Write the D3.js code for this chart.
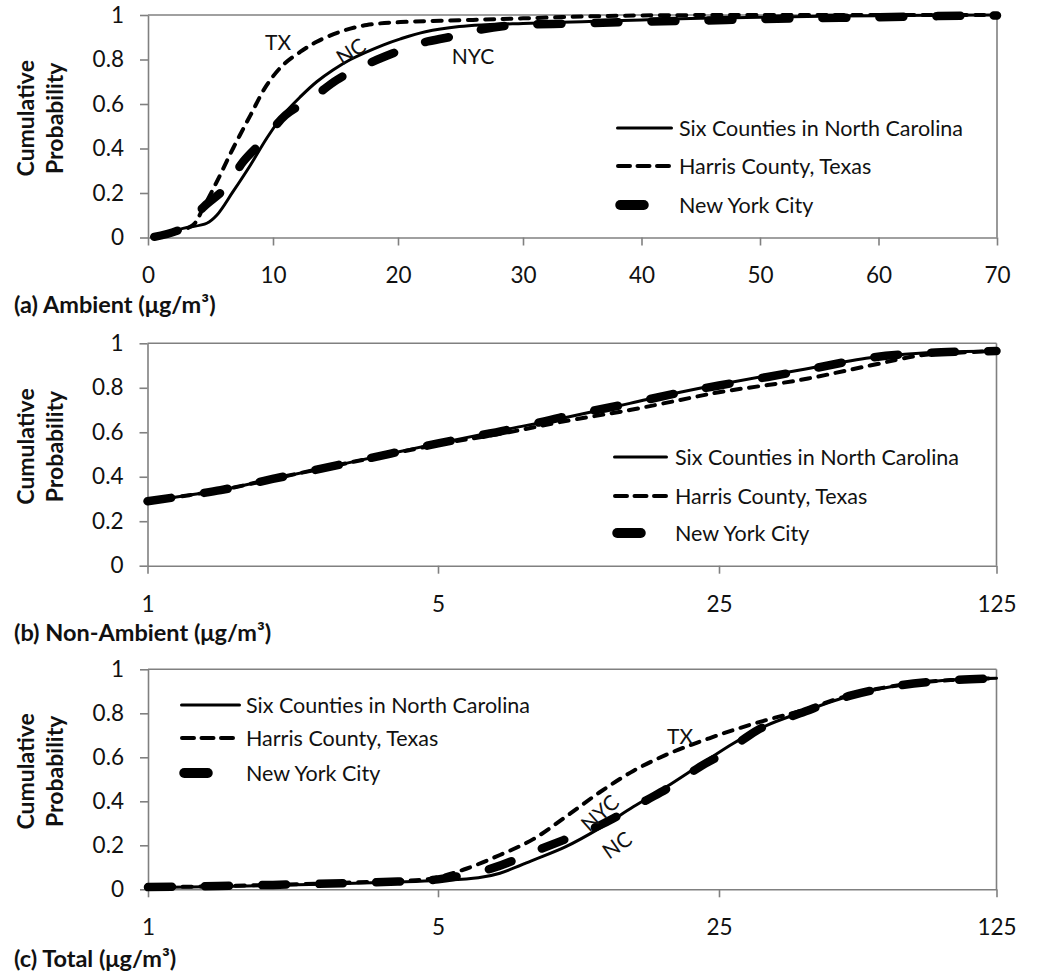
<!DOCTYPE html>
<html>
<head>
<meta charset="utf-8">
<script src="https://cdn.jsdelivr.net/npm/d3@7"></script>
<style>
  html, body { margin: 0; padding: 0; background: #fff; }
  svg text { font-family: Lato, "Open Sans", sans-serif; fill: #111; }
</style>
</head>
<body>
<svg id="chart" width="1050" height="978"></svg>
<script>
// ---------------- DATA ----------------
const seriesNames = ["Six Counties in North Carolina", "Harris County, Texas", "New York City"];
const probTicks = [0, 0.2, 0.4, 0.6, 0.8, 1];
const ambientTicks = [0, 10, 20, 30, 40, 50, 60, 70];
const logTicks = [1, 5, 25, 125];
const panelTitles = ["(a) Ambient (μg/m³)", "(b) Non-Ambient (μg/m³)", "(c) Total (μg/m³)"];

// (a) Ambient: [concentration, cumulative probability]
const ambientNC = [[0.5,0.004],[2.8,0.041],[4.7,0.064],[5.5,0.1],[6.8,0.206],[8.2,0.326],[9.5,0.446],[10.8,0.55],[12.2,0.633],[13.5,0.7],[14.8,0.753],[16.2,0.8],[18.8,0.865],[20.2,0.893],[22.2,0.925],[24.9,0.948],[27,0.956],[30,0.962],[35,0.97],[40,0.978],[45,0.985],[50,0.99],[60,0.997],[70,1]];
const ambientTX = [[0.5,0.003],[2,0.025],[3.6,0.056],[4.4,0.131],[5.5,0.25],[6.8,0.4],[8.2,0.55],[9.5,0.685],[10.8,0.775],[12.2,0.835],[13.5,0.88],[15.4,0.925],[17.5,0.955],[20.2,0.968],[26,0.978],[30,0.985],[35,0.993],[40,0.998],[50,1],[70,1]];
const ambientNYC = [[0.5,0.003],[2.7,0.04],[4.5,0.14],[6.3,0.228],[7.6,0.34],[9.4,0.446],[11,0.55],[13.1,0.625],[15.1,0.708],[17.1,0.768],[19.6,0.828],[21.8,0.873],[24.3,0.903],[26.5,0.933],[29,0.953],[35,0.962],[40,0.97],[45,0.975],[50,0.982],[55,0.986],[60,0.99],[65,0.995],[70,0.998]];

// (b) Non-Ambient
const nonAmbNC = [[1,0.29],[1.5,0.34],[2,0.39],[3,0.46],[5,0.55],[7.5,0.615],[10,0.66],[15,0.73],[20,0.78],[25,0.815],[40,0.88],[60,0.935],[80,0.955],[100,0.962],[125,0.965]];
const nonAmbTX = [[1,0.29],[1.5,0.34],[2,0.39],[3,0.46],[5,0.545],[7.5,0.6],[10,0.645],[15,0.7],[20,0.745],[25,0.78],[40,0.835],[60,0.9],[80,0.945],[100,0.958],[125,0.965]];
const nonAmbNYC = [[1,0.29],[1.5,0.34],[2,0.39],[3,0.46],[5,0.55],[7.5,0.612],[10,0.665],[15,0.73],[20,0.778],[25,0.81],[40,0.875],[60,0.935],[80,0.955],[100,0.962],[125,0.965]];

// (c) Total
const totalNC = [[1,0.008],[1.5,0.013],[2,0.018],[3,0.026],[4,0.033],[5,0.04],[6.3,0.052],[7.13,0.073],[8.63,0.133],[10.4,0.194],[12.6,0.277],[15.3,0.375],[18.5,0.466],[22.4,0.565],[27.2,0.664],[33,0.745],[40,0.802],[53.5,0.88],[71.6,0.929],[95.7,0.951],[125,0.959]];
const totalTX = [[1,0.008],[2,0.02],[3,0.03],[4,0.038],[4.8,0.048],[5.8,0.09],[7.13,0.156],[8.63,0.228],[10.4,0.33],[12.6,0.44],[15.3,0.538],[18.5,0.612],[22.4,0.671],[27.2,0.724],[33,0.77],[40,0.81],[53.5,0.883],[71.6,0.929],[95.7,0.951],[125,0.959]];
const totalNYC = [[1,0.01],[2,0.02],[3,0.028],[4,0.035],[5,0.045],[6.8,0.095],[9,0.183],[12.6,0.29],[13.9,0.33],[16.5,0.405],[18.9,0.466],[22.4,0.557],[26.1,0.625],[29.8,0.7],[33,0.745],[40,0.8],[53.5,0.88],[71.6,0.927],[95.7,0.95],[125,0.959]];

// ---------------- DRAW ----------------
const svg = d3.select("#chart");
const axisColor = "#808080";
const styles = [
  { width: 3, dash: null, cap: "round" },
  { width: 4, dash: "9,8.5", cap: "round" },
  { width: 8.5, dash: "24,33", cap: "round" }
];

const panels = [
  {
    x: d3.scaleLinear().domain([0, 30, 70]).range([148, 523, 997]),
    y: d3.scaleLinear().domain([0, 1]).range([237.5, 15]),
    ticks: ambientTicks, data: [ambientNC, ambientTX, ambientNYC],
    titleY: 313, legend: { x0: 616, x1: 673, tx: 679, ys: [128, 166, 205] }
  },
  {
    x: d3.scaleLog().domain([1, 5, 25, 125]).range([147.5, 438, 719, 996.5]),
    y: d3.scaleLinear().domain([0, 1]).range([565.7, 343.3]),
    ticks: logTicks, data: [nonAmbNC, nonAmbTX, nonAmbNYC],
    titleY: 641, legend: { x0: 613, x1: 668, tx: 675, ys: [457, 496, 533] }
  },
  {
    x: d3.scaleLog().domain([1, 5, 25, 125]).range([148, 438, 719, 996.5]),
    y: d3.scaleLinear().domain([0, 1]).range([889.3, 669.3]),
    ticks: logTicks, data: [totalNC, totalTX, totalNYC],
    titleY: 967, legend: { x0: 180, x1: 241, tx: 246, ys: [705, 738, 773] }
  }
];

panels.forEach((p, i) => {
  const g = svg.append("g");
  const xr = p.x.range();
  const [x0, x1] = [xr[0], xr[xr.length - 1]];
  const [y0, y1] = p.y.range();

  // plot border (top & right)
  g.append("line").attr("x1", x0).attr("x2", x1).attr("y1", y1).attr("y2", y1)
    .attr("stroke", axisColor).attr("stroke-width", 1.6);
  g.append("line").attr("x1", x1).attr("x2", x1).attr("y1", y1).attr("y2", y0)
    .attr("stroke", axisColor).attr("stroke-width", 1.6);

  // axes
  const ya = g.append("g").attr("transform", `translate(${x0},0)`)
    .call(d3.axisLeft(p.y).tickValues(probTicks).tickSize(8).tickSizeOuter(0).tickPadding(16)
      .tickFormat(d => String(d)));
  const xa = g.append("g").attr("transform", `translate(0,${y0})`)
    .call(d3.axisBottom(p.x).tickValues(p.ticks).tickSize(8).tickSizeOuter(0).tickPadding(22)
      .tickFormat(d => String(d)));
  [ya, xa].forEach(a => {
    a.selectAll("path, line").attr("stroke", axisColor).attr("stroke-width", 1.6);
    a.selectAll("text").attr("font-size", 22.5).attr("font-family", "Lato, sans-serif").attr("fill", "#111");
  });

  // y title
  const cy = (y0 + y1) / 2 - 8;
  g.append("text").attr("transform", `translate(25,${cy}) rotate(-90)`)
    .attr("text-anchor", "middle").attr("dominant-baseline", "central")
    .attr("font-size", 23).attr("font-weight", "bold").text("Cumulative");
  g.append("text").attr("transform", `translate(54,${cy}) rotate(-90)`)
    .attr("text-anchor", "middle").attr("dominant-baseline", "central")
    .attr("font-size", 23).attr("font-weight", "bold").text("Probability");

  // panel title
  g.append("text").attr("x", 14).attr("y", p.titleY)
    .attr("font-size", 23.5).attr("font-weight", "bold").text(panelTitles[i]);

  // curves
  const line = d3.line().x(d => p.x(d[0])).y(d => p.y(d[1])).curve(d3.curveCatmullRom.alpha(0.5));
  p.data.forEach((ser, k) => {
    const s = styles[k];
    g.append("path").datum(ser).attr("d", line)
      .attr("fill", "none").attr("stroke", "#000")
      .attr("stroke-width", s.width).attr("stroke-linecap", s.cap)
      .attr("stroke-linejoin", "round")
      .attr("stroke-dasharray", s.dash);
  });

  // legend
  const L = p.legend;
  seriesNames.forEach((name, k) => {
    const s = styles[k];
    const xe = k === 2 ? L.x0 + 32 : L.x1;
    g.append("line").attr("x1", L.x0 + s.width / 2).attr("x2", xe - s.width / 2)
      .attr("y1", L.ys[k]).attr("y2", L.ys[k])
      .attr("stroke", "#000").attr("stroke-width", k === 2 ? 10 : s.width)
      .attr("stroke-linecap", s.cap)
      .attr("stroke-dasharray", k === 1 ? "12,7.5" : null);
    g.append("text").attr("x", L.tx).attr("y", L.ys[k])
      .attr("dominant-baseline", "central").attr("font-size", 21.5).text(name);
  });
});

// curve annotations
const annot = [
  { t: "TX", x: panels[0].x(10.4), y: panels[0].y(0.882), r: 0 },
  { t: "NC", x: panels[0].x(16.2), y: panels[0].y(0.84), r: -32 },
  { t: "NYC", x: panels[0].x(26), y: panels[0].y(0.82), r: 0 },
  { t: "TX", x: panels[2].x(20), y: panels[2].y(0.70), r: 0 },
  { t: "NYC", x: panels[2].x(12.6), y: panels[2].y(0.35), r: -42 },
  { t: "NC", x: panels[2].x(13.9), y: panels[2].y(0.205), r: -35 }
];
annot.forEach(a => {
  svg.append("text").attr("transform", `translate(${a.x},${a.y}) rotate(${a.r})`)
    .attr("text-anchor", "middle").attr("dominant-baseline", "central")
    .attr("font-size", 21).text(a.t);
});
</script>
</body>
</html>
